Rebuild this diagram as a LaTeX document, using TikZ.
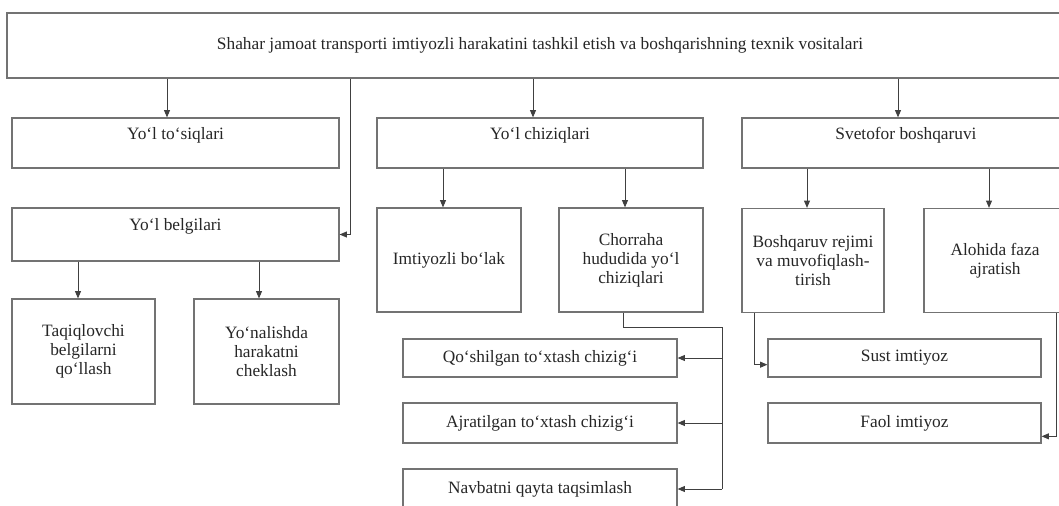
\documentclass[tikz,border=0pt]{standalone}
\usepackage{fontspec}
\setmainfont{Liberation Serif}
\usepackage{xcolor}
\usepackage{tikz}
\usetikzlibrary{arrows.meta}

\begin{document}
\begin{tikzpicture}[x=0.75pt, y=-0.75pt, >={Triangle[length=5.5pt, width=4.5pt]},
    every node/.style={font=\fontsize{13}{14.3}\selectfont, text=black!85},
    box/.style={draw=black!55, line width=0.9pt, rectangle, align=center, inner sep=2pt},
    headbox/.style={box, text height=14pt, text depth=19.5pt},
    link/.style={draw=black!75, line width=0.7pt}]
    \useasboundingbox (0,0) rectangle (1059,506);

    % Main box
    \node[box, minimum width=799.5pt, minimum height=48.75pt] (tech) at (540,45.5) {Shahar jamoat transporti imtiyozli harakatini tashkil etish va boshqarishning texnik vositalari};

    % Groups
    \node[headbox, minimum width=245.25pt] (bar) at (175.5,143) {Yo‘l to‘siqlari};
    \node[headbox, minimum width=245.25pt, minimum height=39.75pt] (signs) at (175.5,234.5) {Yo‘l belgilari};
    \node[headbox, minimum width=244.5pt] (lines) at (540,143) {Yo‘l chiziqlari};
    \node[headbox, minimum width=246pt] (light) at (906,143) {Svetofor boshqaruvi};

    % Sub boxes
    \node[box, minimum width=107.25pt, minimum height=78.75pt] (ban) at (83.5,351.5) {Taqiqlovchi\\belgilarni\\qo‘llash};
    \node[box, minimum width=108.75pt, minimum height=78.75pt] (dirlim) at (266.5,351.5) {Yo‘nalishda\\harakatni\\cheklash};
    \node[box, minimum width=108pt, minimum height=78pt] (lane) at (449,260) {Imtiyozli bo‘lak};
    \node[box, minimum width=108pt, minimum height=78pt] (cross) at (631,260) {Chorraha\\hududida yo‘l\\chiziqlari};
    \node[box, minimum width=106.5pt, minimum height=78pt] (mode) at (813,260.5) {Boshqaruv rejimi\\va muvofiqlash-\\tirish};
    \node[box, minimum width=106.5pt, minimum height=78pt] (phase) at (995,260.5) {Alohida faza\\ajratish};

    % Bottom rows
    \node[box, minimum width=205.5pt, minimum height=28.5pt] (joined) at (540,358) {Qo‘shilgan to‘xtash chizig‘i};
    \node[box, minimum width=205.5pt, minimum height=30pt] (split) at (540,423) {Ajratilgan to‘xtash chizig‘i};
    \node[box, minimum width=205.5pt, minimum height=30pt] (queue) at (540,489) {Navbatni qayta taqsimlash};
    \node[box, minimum width=204.75pt, minimum height=28.5pt] (passive) at (904.5,358) {Sust imtiyoz};
    \node[box, minimum width=204.75pt, minimum height=30pt] (active) at (904.5,423) {Faol imtiyoz};

    % Edges
    \draw[->, link] (tech.south -| 167,0) -- (bar.north -| 167,0);
    \draw[->, link] (tech.south -| 350,0) |- (signs.east);
    \draw[->, link] (tech.south -| 533,0) -- (lines.north -| 533,0);
    \draw[->, link] (tech.south -| 898,0) -- (light.north -| 898,0);
    \draw[->, link] (signs.south -| 78,0) -- (ban.north -| 78,0);
    \draw[->, link] (signs.south -| 259,0) -- (dirlim.north -| 259,0);
    \draw[->, link] (lines.south -| 443,0) -- (lane.north -| 443,0);
    \draw[->, link] (lines.south -| 625,0) -- (cross.north -| 625,0);
    \draw[->, link] (light.south -| 807,0) -- (mode.north -| 807,0);
    \draw[->, link] (light.south -| 989,0) -- (phase.north -| 989,0);

    % Crossing lines
    \coordinate (bus) at (722,327);
    \draw[link] (cross.south -| 623,0) |- (bus) -- (bus |- queue.east);
    \draw[->, link] (bus |- joined.east) -- (joined.east);
    \draw[->, link] (bus |- split.east) -- (split.east);
    \draw[->, link] (bus |- queue.east) -- (queue.east);

    % Priority
    \draw[->, link] (mode.south -| 754,0) |- ([yshift=-5pt]passive.west);
    \draw[->, link] (phase.south -| 1056,0) |- ([yshift=-10pt]active.east);
\end{tikzpicture}
\end{document}
